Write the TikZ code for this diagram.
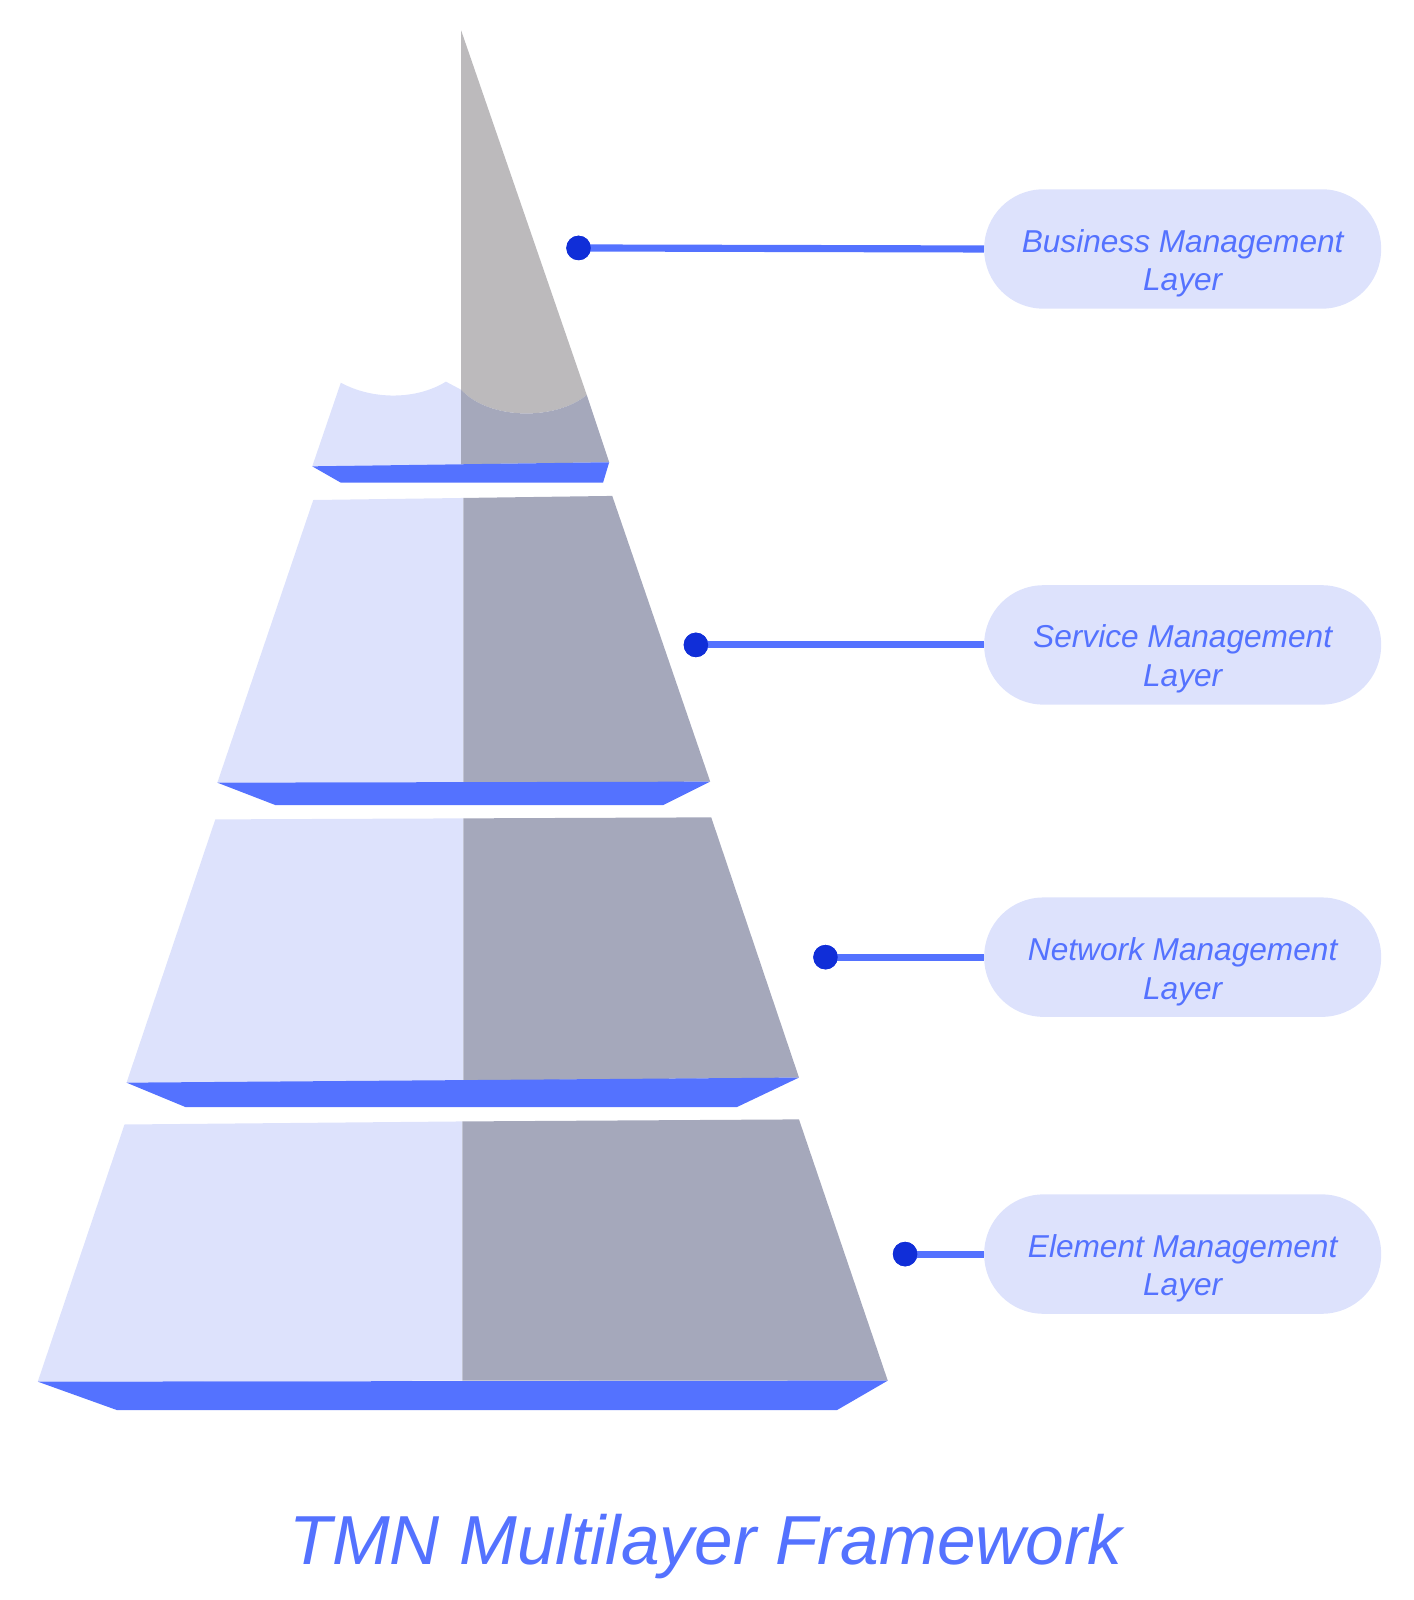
\documentclass[tikz,border=0pt]{standalone}
\usepackage{fontspec}
\setmainfont{Liberation Sans}
\usetikzlibrary{positioning}
\definecolor{FaceLight}{RGB}{221,226,252}
\definecolor{FaceDark}{RGB}{165,168,187}
\definecolor{TipGray}{RGB}{188,186,188}
\definecolor{StripBlue}{RGB}{84,114,255}
\definecolor{DotBlue}{RGB}{16,46,216}
\tikzset{
  face/.style={fill=FaceLight},
  shade/.style={fill=FaceDark},
  strip/.style={fill=StripBlue},
  pill/.style={fill=FaceLight, rounded corners=58pt, minimum width=389pt, minimum height=117pt},
  pilltext/.style={at={(#1.center)}, yshift=-14pt, align=center, text=StripBlue,
    font=\itshape\fontsize{31}{38}\selectfont},
  dot/.style={circle, fill=DotBlue, inner sep=0pt, minimum size=24pt},
  link/.style={StripBlue, line width=7pt},
}
\begin{document}
\begin{tikzpicture}[x=1pt,y=-1pt]
  \useasboundingbox (0,0) rectangle (1385,1568);

  % Top layer
  \fill[face] (306,457) -- (334,375) .. controls (365,392) and (408,392) .. (437,374)
    -- (452,382) -- (452,455) -- cycle;
  \fill[TipGray] (452,30) -- (575,387) .. controls (545,412) and (480,412) .. (452,382) -- cycle;
  \fill[shade] (452,382) .. controls (480,412) and (545,412) .. (575,387) -- (597,453) -- (452,455) -- cycle;
  \fill[strip] (306,457) -- (597,453) -- (591,473) -- (334,473) -- cycle;

  % Second layer
  \fill[face] (307,490) -- (454,488) -- (454,767) -- (213,767) -- cycle;
  \fill[shade] (454,488) -- (600,486) -- (696,766) -- (454,767) -- cycle;
  \fill[strip] (213,767) -- (696,766) -- (650,789) -- (270,789) -- cycle;

  % Third layer
  \fill[face] (211,803) -- (454,802) -- (454,1059) -- (124,1061) -- cycle;
  \fill[shade] (454,802) -- (697,801) -- (783,1056) -- (454,1059) -- cycle;
  \fill[strip] (124,1061) -- (783,1056) -- (722,1085) -- (182,1085) -- cycle;

  % Bottom layer
  \fill[face] (122,1102) -- (453,1099) -- (453,1353) -- (37,1354) -- cycle;
  \fill[shade] (453,1099) -- (783,1097) -- (870,1353) -- (453,1353) -- cycle;
  \fill[strip] (37,1354) -- (870,1353) -- (820,1382) -- (115,1382) -- cycle;

  % Labels
  \node[pill] (bml) at (1159,244) {};
  \node[pill] (sml) at (1159,632) {};
  \node[pill] (nml) at (1159,938) {};
  \node[pill] (eml) at (1159,1229) {};
  \node[pilltext=bml] (bmltext) {Business Management\\Layer};
  \node[pilltext=sml] (smltext) {Service Management\\Layer};
  \node[pilltext=nml] (nmltext) {Network Management\\Layer};
  \node[pilltext=eml] (emltext) {Element Management\\Layer};

  \node[dot] (d1) at (567,243) {};
  \node[dot] (d2) at (682,632) {};
  \node[dot] (d3) at (809,938) {};
  \node[dot] (d4) at (887,1229) {};

  \draw[link] (d1.center) -- (bml.west);
  \draw[link] (d2.center) -- (sml.west);
  \draw[link] (d3.center) -- (nml.west);
  \draw[link] (d4.center) -- (eml.west);
  \foreach \d in {d1,d2,d3,d4} \fill[DotBlue] (\d) circle (12pt);

  % Title
  \node[text=StripBlue, font=\itshape\fontsize{68}{76}\selectfont] (title) at (692,1516) {TMN Multilayer Framework};
\end{tikzpicture}
\end{document}
